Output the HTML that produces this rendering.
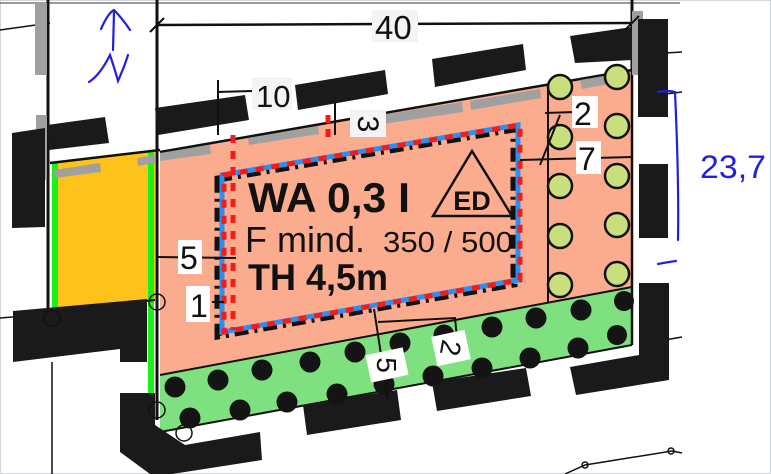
<!DOCTYPE html>
<html><head><meta charset="utf-8"><style>
html,body{margin:0;padding:0;background:#fff;width:771px;height:474px;overflow:hidden}
svg{display:block}
text{font-family:"Liberation Sans",Arial,sans-serif}
</style></head><body>
<svg width="771" height="474" viewBox="0 0 771 474" xmlns="http://www.w3.org/2000/svg">
<rect x="0" y="0" width="771" height="474" fill="#fff"/>
<rect x="0.5" y="0.5" width="770" height="473" fill="none" stroke="#cfd6dc" stroke-width="1"/>
<line x1="0" y1="3" x2="680" y2="3" stroke="#333" stroke-width="1"/>
<g stroke="#111" stroke-width="1.5" fill="none">
<line x1="0" y1="30" x2="50" y2="23"/>
<line x1="0" y1="318" x2="50" y2="314"/>
<line x1="632" y1="55" x2="682" y2="52"/>
<line x1="640" y1="97" x2="682" y2="92"/>
<line x1="665" y1="340" x2="682" y2="337"/>
<line x1="160" y1="183" x2="548" y2="117"/>
<line x1="548" y1="117" x2="632" y2="103"/>
<polyline points="565,474 585,465 672,451 682,453"/>
<circle cx="585" cy="465" r="3"/><circle cx="671" cy="451" r="3"/>
<line x1="52" y1="362" x2="52" y2="474"/>
<line x1="155" y1="430" x2="155" y2="474"/>
</g>
<polygon points="52,162 155,150 155,300 52,312" fill="#fdc31b"/>
<rect x="52" y="162" width="6" height="150" fill="#19f219"/>
<rect x="148" y="150" width="6" height="255" fill="#19f219"/>
<polygon points="160,152 632,70 632,288 160,375" fill="#fbac8e"/>
<polygon points="160,375 632,287 632,345 160,432" fill="#7fe07f"/>
<line x1="160" y1="375" x2="632" y2="287" stroke="#111" stroke-width="2"/>
<line x1="160" y1="432" x2="632" y2="345" stroke="#111" stroke-width="2"/>
<line x1="160" y1="152" x2="632" y2="70" stroke="#111" stroke-width="2.5"/>
<line x1="50" y1="163" x2="160" y2="150" stroke="#111" stroke-width="2.5"/>
<line x1="52" y1="312" x2="155" y2="300" stroke="#111" stroke-width="2"/>
<line x1="548" y1="86" x2="548" y2="302" stroke="#111" stroke-width="2"/>
<line x1="632" y1="70" x2="632" y2="345" stroke="#111" stroke-width="2.5"/>
<line x1="48" y1="0" x2="48" y2="320" stroke="#111" stroke-width="3"/>
<line x1="157" y1="0" x2="157" y2="420" stroke="#111" stroke-width="3"/>
<line x1="632" y1="0" x2="632" y2="70" stroke="#111" stroke-width="3"/>
<g fill="#a0a0a0">
<rect x="35" y="3" width="12" height="72"/>
<rect x="36" y="115" width="11" height="65"/>
<rect x="632" y="11" width="11" height="64"/>
<polygon points="54,170 100,163 101,172 55,178"/>
<polygon points="137,158 155,155 155,163 138,166"/>
<polygon points="160,153 210,145 211,154 160,161"/>
<polygon points="248,138 318,126 319,134 249,145"/>
<polygon points="382,115 462,102 463,112 383,124"/>
<polygon points="470,101 540,89 541,98 471,110"/>
<polygon points="580,80 628,72 630,80 582,89"/>
</g>
<g fill="#1a1a1a">
<polygon points="12,133 45,128 45,227 12,228"/>
<polygon points="47,125 105,117 109,143 49,150"/>
<polygon points="155,108 245,95 249,120 158,135"/>
<polygon points="295,85 385,70 388,94 298,110"/>
<polygon points="432,59 523,44 526,70 435,87"/>
<polygon points="570,36 632,27 632,60 575,63"/>
<rect x="638" y="19" width="30" height="98"/>
<rect x="639" y="164" width="29" height="74"/>
<polygon points="639,283 669,283 669,380 576,395 570,367 639,355"/>
<polygon points="432,382 526,368 531,396 437,411"/>
<polygon points="303,405 397,390 401,420 307,435"/>
<polygon points="13,311 147,299 147,362 120,362 120,349 13,362"/>
<polygon points="120,393 155,393 155,425 185,445 260,432 262,460 172,474 150,474 120,452"/>
</g>
<g fill="#c9df7e" stroke="#111" stroke-width="2.5">
<circle cx="560" cy="87" r="12"/><circle cx="617" cy="77" r="12"/>
<circle cx="560" cy="137" r="12"/><circle cx="617" cy="126" r="12"/>
<circle cx="560" cy="186" r="12"/><circle cx="617" cy="176" r="12"/>
<circle cx="560" cy="236" r="12"/><circle cx="617" cy="225" r="12"/>
<circle cx="560" cy="285" r="12"/><circle cx="617" cy="274" r="12"/>
</g>
<g fill="#141414">
<circle cx="175" cy="387" r="10.5"/><circle cx="218" cy="380" r="10.5"/><circle cx="262" cy="370" r="10.5"/><circle cx="310" cy="362" r="10.5"/><circle cx="355" cy="352" r="10.5"/><circle cx="400" cy="343" r="10.5"/><circle cx="444" cy="335" r="10.5"/><circle cx="492" cy="327" r="10.5"/><circle cx="536" cy="318" r="10.5"/><circle cx="581" cy="310" r="10.5"/><circle cx="624" cy="301" r="10"/>
<circle cx="190" cy="418" r="10.5"/><circle cx="240" cy="410" r="10.5"/><circle cx="287" cy="402" r="10.5"/><circle cx="337" cy="394" r="10.5"/><circle cx="384" cy="384" r="10.5"/><circle cx="433" cy="376" r="10.5"/><circle cx="482" cy="368" r="10.5"/><circle cx="530" cy="358" r="10.5"/><circle cx="578" cy="348" r="10.5"/><circle cx="617" cy="335" r="10"/>
</g>
<g fill="none" stroke="#111" stroke-width="1.5">
<circle cx="52" cy="318" r="8"/><circle cx="157" cy="302" r="8"/><circle cx="157" cy="410" r="8"/><circle cx="184" cy="433" r="8"/>
</g>
<polygon points="222,175 518,125 518,280 222,332" fill="none" stroke="#111" stroke-width="7" stroke-dasharray="14,6,3,6" transform="translate(-4,4)"/>
<polygon points="222,175 518,125 518,280 222,332" fill="none" stroke="#2e8ff2" stroke-width="5"/>
<polygon points="222,175 518,125 518,280 222,332" fill="none" stroke="#f21c1c" stroke-width="5" stroke-dasharray="8,8" transform="translate(2,0)"/>
<line x1="233" y1="135" x2="233" y2="330" stroke="#f21c1c" stroke-width="5" stroke-dasharray="8,8"/>
<line x1="328" y1="115" x2="328" y2="140" stroke="#f21c1c" stroke-width="5" stroke-dasharray="8,6"/>
<text x="248" y="212" font-size="42" font-weight="bold" fill="#111" textLength="162" lengthAdjust="spacingAndGlyphs">WA 0,3  I</text>
<polygon points="472,151 433,216 512,216" fill="none" stroke="#111" stroke-width="2.5"/>
<text x="472" y="210" font-size="27" font-weight="bold" text-anchor="middle" fill="#111">ED</text>
<text x="245" y="252" font-size="36" fill="#111">F  mind.</text>
<text x="383" y="252" font-size="29" fill="#111" textLength="130" lengthAdjust="spacingAndGlyphs">350 / 500</text>
<text x="248" y="290" font-size="37" font-weight="bold" fill="#111" textLength="140" lengthAdjust="spacingAndGlyphs">TH  4,5m</text>
<line x1="157" y1="25" x2="632" y2="23" stroke="#111" stroke-width="2.5"/>
<line x1="150" y1="32" x2="164" y2="18" stroke="#111" stroke-width="2"/>
<line x1="625" y1="30" x2="639" y2="16" stroke="#111" stroke-width="2"/>
<rect x="372" y="10" width="46" height="32" fill="#f4f4f4"/>
<text x="375" y="39" font-size="33" fill="#111">40</text>
<line x1="217" y1="92" x2="252" y2="91" stroke="#111" stroke-width="2"/>
<line x1="218" y1="80" x2="218" y2="135" stroke="#111" stroke-width="2"/>
<line x1="335" y1="103" x2="335" y2="135" stroke="#111" stroke-width="2"/>
<rect x="252" y="77" width="40" height="33" fill="#f4f4f4"/>
<text x="256" y="107" font-size="31" fill="#111">10</text>
<rect x="350" y="110" width="36" height="27" fill="#f4f4f4"/>
<text x="368" y="124" font-size="30" fill="#111" text-anchor="middle" transform="rotate(90 368 124)" dy="10">3</text>
<line x1="520" y1="160" x2="632" y2="157" stroke="#111" stroke-width="2"/>
<line x1="545" y1="113" x2="575" y2="112" stroke="#111" stroke-width="2"/>
<line x1="540" y1="165" x2="560" y2="115" stroke="#111" stroke-width="2"/>
<rect x="572" y="96" width="26" height="32" fill="#fff"/>
<text x="574" y="125" font-size="32" fill="#111">2</text>
<rect x="576" y="141" width="25" height="33" fill="#fff"/>
<text x="578" y="170" font-size="32" fill="#111">7</text>
<line x1="157" y1="257" x2="236" y2="258" stroke="#111" stroke-width="2"/>
<rect x="178" y="240" width="24" height="34" fill="#fff"/>
<text x="180" y="269" font-size="32" fill="#111">5</text>
<line x1="212" y1="302" x2="224" y2="302" stroke="#111" stroke-width="2"/>
<rect x="186" y="286" width="24" height="36" fill="#fff"/>
<text x="190" y="317" font-size="32" fill="#111">1</text>
<line x1="374" y1="309" x2="388" y2="400" stroke="#111" stroke-width="2"/>
<polyline points="378,322 455,318 457,338" fill="none" stroke="#111" stroke-width="2"/>
<rect x="368" y="351" width="38" height="28" fill="#fff" transform="rotate(-12 387 365)"/>
<text x="387" y="365" font-size="28" fill="#111" text-anchor="middle" dy="10" transform="rotate(90 387 365)">5</text>
<rect x="434" y="333" width="34" height="30" fill="#fff" transform="rotate(-12 451 348)"/>
<text x="451" y="348" font-size="28" fill="#111" text-anchor="middle" dy="10" transform="rotate(100 451 348)">2</text>
<g fill="none" stroke="#1f1fe6" stroke-width="2.2" stroke-linecap="round">
<path d="M101,29 Q108,13 114,10 Q122,18 130,30"/>
<path d="M114,12 L113,50"/>
<path d="M89,82 Q100,75 110,55 Q115,70 118,81 Q125,65 128,55"/>
<path d="M658,92 Q668,90 675,92 Q679,180 678,240"/>
<path d="M658,264 Q668,262 676,261"/>
</g>
<text x="700" y="178" font-size="32" fill="#1f1fe6" textLength="66" lengthAdjust="spacingAndGlyphs">23,7</text>
</svg>
</body></html>
